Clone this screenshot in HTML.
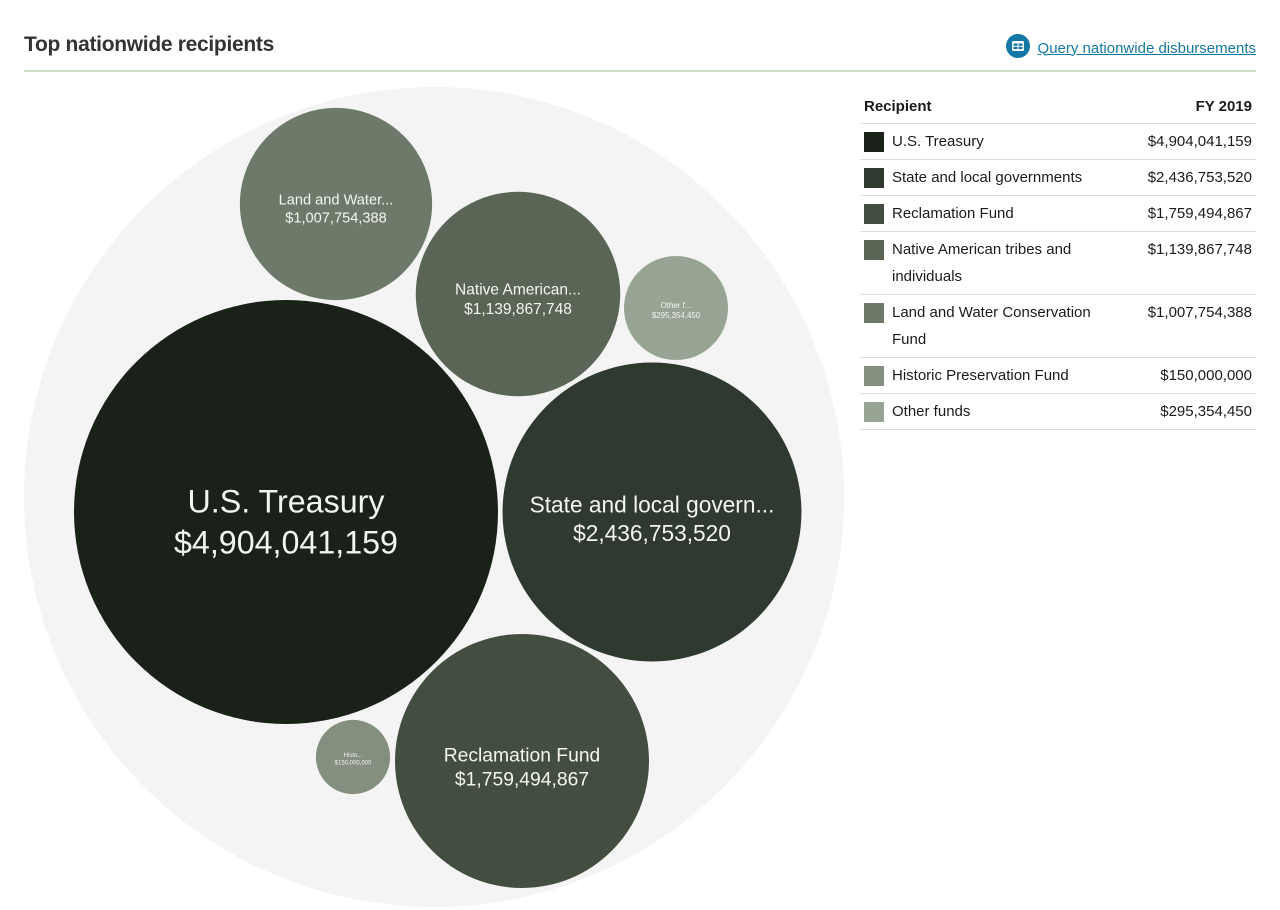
<!DOCTYPE html>
<html><head><meta charset="utf-8">
<style>
body{margin:0;width:1280px;height:910px;background:#fff;font-family:"Liberation Sans",sans-serif;color:#1b1b1b;position:relative;overflow:hidden}
.title{position:absolute;left:24px;top:33px;font-size:21px;font-weight:bold;color:#333;letter-spacing:-0.3px}
.rule{position:absolute;left:24px;top:70px;width:1232px;height:2px;background:#cfdecb}
.link{position:absolute;right:24px;top:36px;font-size:15px;color:#1478a6;text-decoration:underline;display:flex;align-items:center}
.icon{width:24px;height:24px;border-radius:50%;background:#1478a6;margin-right:8px;position:relative;top:-2px}
table{position:absolute;left:860px;top:90px;width:396px;border-collapse:collapse;font-size:15px}
th{font-weight:bold;text-align:left;padding:4px 4px;height:25px;border-bottom:1px solid #ddd}
td{padding:4px 4px;border-bottom:1px solid #ddd;vertical-align:top;line-height:27px}
.sw{display:inline-block;width:20px;height:20px;vertical-align:top;margin-top:4px;float:left}
.nm{display:block;margin-left:28px;max-width:215px}
.r{text-align:right}
</style></head><body>
<div class="title">Top nationwide recipients</div>
<a class="link"><span class="icon"><svg width="24" height="24"><rect x="6" y="7" width="12" height="10" rx="1.5" fill="#fff"/><rect x="7.5" y="9.5" width="4" height="2.3" fill="#1478a6"/><rect x="12.5" y="9.5" width="4" height="2.3" fill="#1478a6"/><rect x="7.5" y="12.8" width="4" height="2.3" fill="#1478a6"/><rect x="12.5" y="12.8" width="4" height="2.3" fill="#1478a6"/></svg></span>Query nationwide disbursements</a>
<div class="rule"></div>
<svg id="chart" width="850" height="910" style="position:absolute;left:0;top:0"></svg>
<table id="legend">
<tr><th>Recipient</th><th class="r">FY 2019</th></tr>
</table>
<script>
const names=["U.S. Treasury","State and local governments","Reclamation Fund","Native American tribes and individuals","Land and Water Conservation Fund","Historic Preservation Fund","Other funds"];
const labels=["U.S. Treasury","State and local govern...","Reclamation Fund","Native American...","Land and Water...","Histo...","Other f..."];
const values=[4904041159,2436753520,1759494867,1139867748,1007754388,150000000,295354450];
const colors=["#1a2118","#2f392f","#434e40","#5a6555","#6d7a6a","#858f80","#98a493"];
// pack layout centres (layout, not data)
const cx=[286,652,522,518,336,353,676], cy=[512,512,761,294,204,757,308];
const k=212/Math.sqrt(values[0]);
const fmt=v=>"$"+v.toLocaleString("en-US");
const ns="http://www.w3.org/2000/svg", svg=document.getElementById("chart");
const bg=document.createElementNS(ns,"circle");


bg.setAttribute("cx",434);bg.setAttribute("cy",497);bg.setAttribute("r",410);bg.setAttribute("fill","#f4f4f4");svg.appendChild(bg);
values.forEach((v,i)=>{
  const r=k*Math.sqrt(v);
  const g=document.createElementNS(ns,"g");
  
  
  const c=document.createElementNS(ns,"circle");
  c.setAttribute("cx",cx[i]);c.setAttribute("cy",cy[i]);c.setAttribute("r",r);c.setAttribute("fill",colors[i]);
  g.appendChild(c);
  const fs=Math.max(6,r*0.152);
  [labels[i],fmt(v)].forEach((t,j)=>{
    const tx=document.createElementNS(ns,"text");
    
    
    tx.setAttribute("x",cx[i]);tx.setAttribute("y",cy[i]+(j===0?0.02:1.22)*fs*1.05);
    tx.setAttribute("text-anchor","middle");tx.setAttribute("fill","#f4f4f0");tx.setAttribute("font-size",fs);
    tx.setAttribute("font-family","Liberation Sans, sans-serif");
    tx.textContent=t;g.appendChild(tx);
  });
  svg.appendChild(g);
  const tr=document.createElement("tr");
  
  
  tr.innerHTML='<td><span class="sw" style="background:'+colors[i]+'"></span><span class="nm">'+names[i]+'</span></td><td class="r">'+fmt(v)+'</td>';
  document.getElementById("legend").appendChild(tr);
});
</script>
</body></html>
